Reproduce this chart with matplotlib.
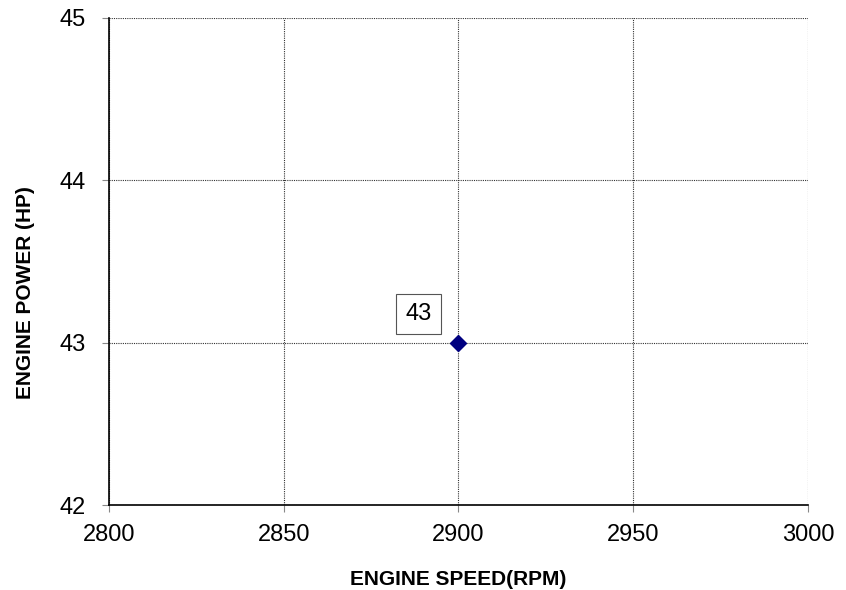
import matplotlib
matplotlib.use("Agg")
import matplotlib.pyplot as plt

plt.rcParams['font.family'] = ['Liberation Sans', 'DejaVu Sans']

speed = [2900]
power = [43]
point_labels = ["43"]

fig = plt.figure(figsize=(8.46, 5.90), dpi=100)
ax = fig.add_axes([0.1288, 0.144, 0.8262, 0.8255])

ax.plot(speed, power, linestyle='none', marker='D', markersize=8,
        color='#000080', zorder=5, clip_on=False)
for x, y, t in zip(speed, power, point_labels):
    ax.annotate(t, (x, y), xytext=(-40, 29), textcoords='offset pixels',
                ha='center', va='center', fontsize=17,
                bbox=dict(boxstyle='square,pad=0.38', fc='white', ec='#555555', lw=0.8))

ax.set_xlim(2800, 3000)
ax.set_ylim(42, 45)
ax.set_xticks([2800, 2850, 2900, 2950, 3000])
ax.set_yticks([42, 43, 44, 45])
ax.grid(True, color='#333333', linestyle=(0, (1, 1)), linewidth=0.8)
ax.tick_params(direction='out', length=5, width=0.8, color='#888888', labelsize=17)
ax.tick_params(axis='x', pad=9)
ax.tick_params(axis='y', pad=12)
for side in ['top', 'right']:
    ax.spines[side].set_visible(False)
for side in ['left', 'bottom']:
    ax.spines[side].set_linewidth(1.2)
    ax.spines[side].set_zorder(4)

ax.set_xlabel('ENGINE SPEED(RPM)', fontsize=15, fontweight='bold')
ax.set_ylabel('ENGINE POWER (HP)', fontsize=15, fontweight='bold')
ax.xaxis.set_label_coords(0.5, -0.152)
ax.yaxis.set_label_coords(-0.12, 0.437)
ax.xaxis.label.set_va('center')
ax.yaxis.label.set_va('center')

fig.savefig('out.png', dpi=100)
